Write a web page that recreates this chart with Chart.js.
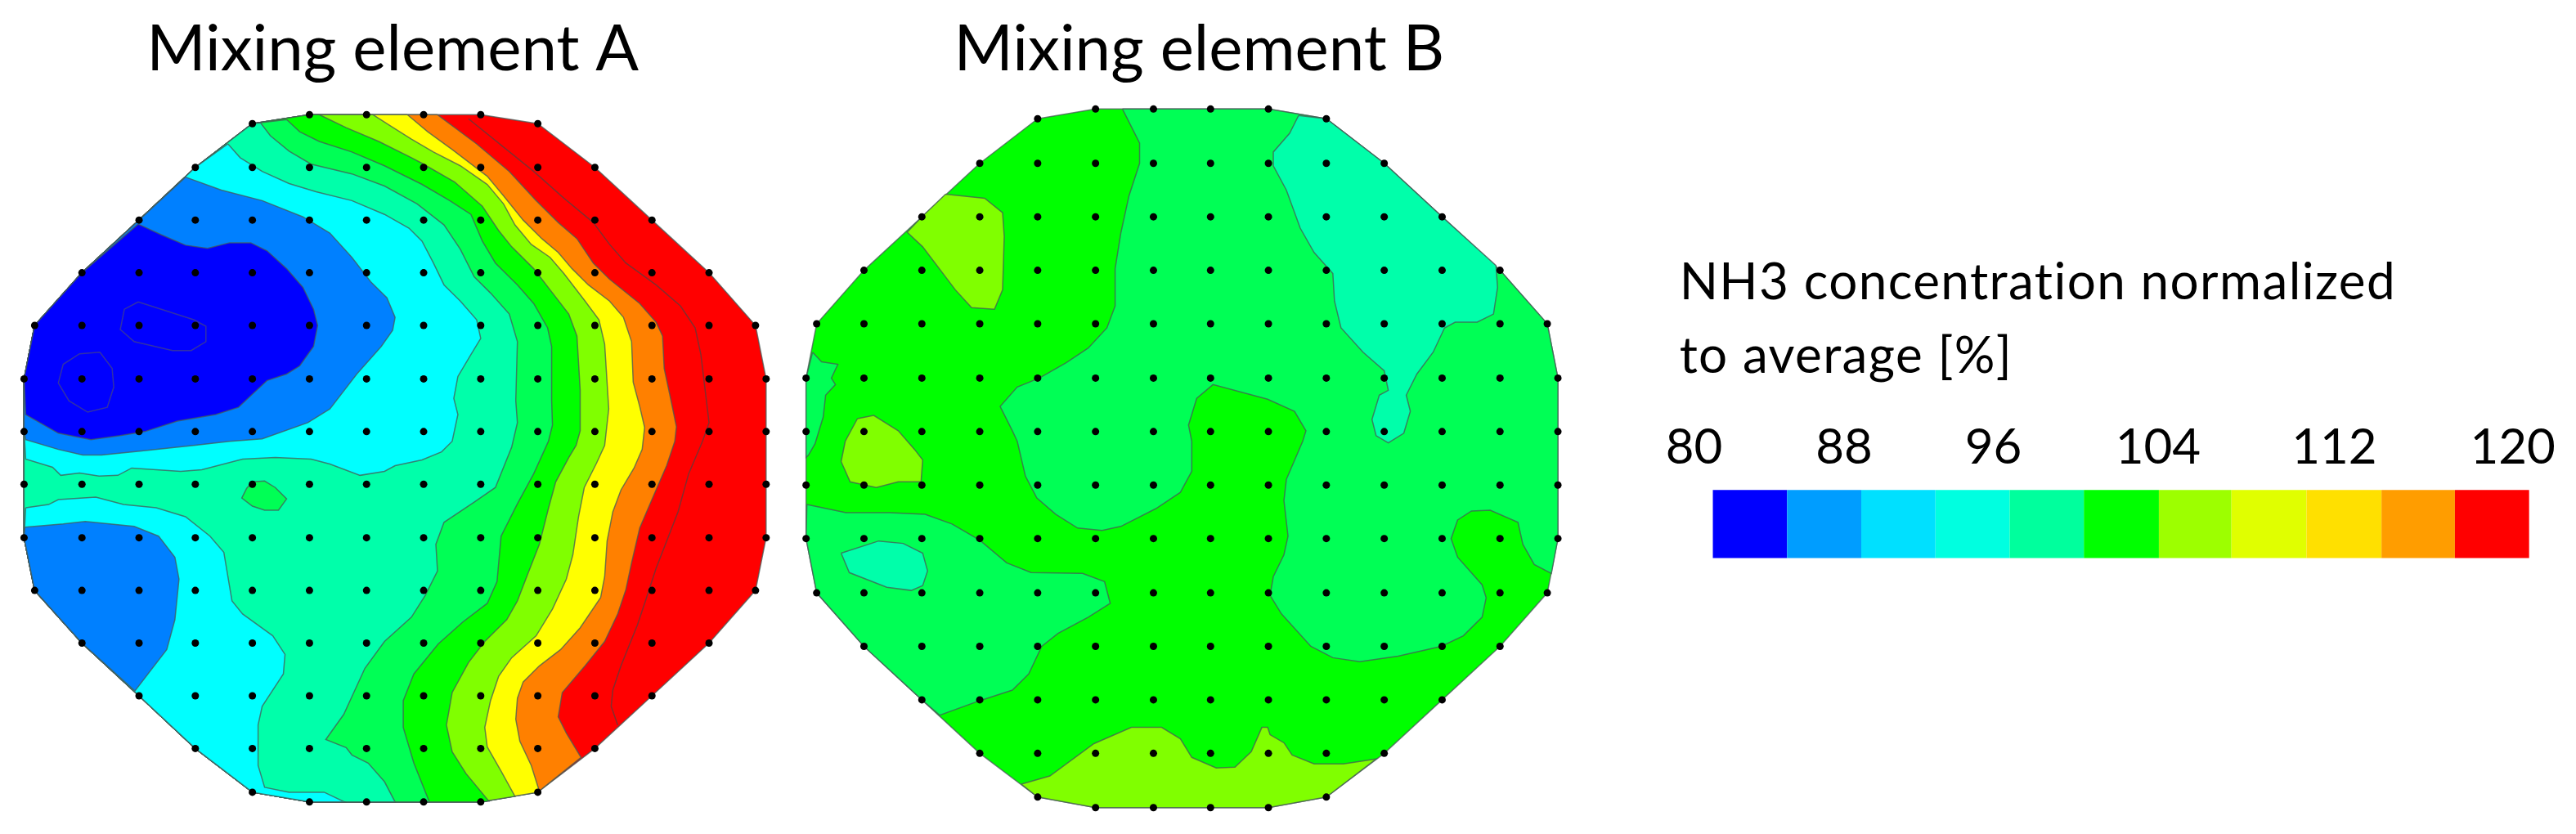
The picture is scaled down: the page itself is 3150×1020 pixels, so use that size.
<!DOCTYPE html>
<html>
<head>
<meta charset="utf-8">
<title>NH3 concentration</title>
<script src="https://cdn.jsdelivr.net/npm/chart.js@4"></script>
<style>
  html, body { margin: 0; padding: 0; background: #fff; }
  canvas { display: block; }
</style>
</head>
<body>
<canvas id="chart" width="3150" height="1020"></canvas>
<script>
// Titles and legend
const panelTitles = ["Mixing element A", "Mixing element B"];
const legendLines = ["NH3 concentration normalized", "to average [%]"];
const tickLabels = ["80", "88", "96", "104", "112", "120"];
const legendColors = ["#0000ff", "#009dff", "#00e0ff", "#00ffe0", "#00ff9d", "#00ff00",
    "#9dff00", "#e0ff00", "#ffe000", "#ff9d00", "#ff0000"];
const legendEdges = [2096, 2187, 2278, 2369, 2460, 2551, 2643, 2732, 2824, 2916, 3006, 3097];

// Contour colours, low to high
const blue = "#0000ff", azure = "#0080ff", cyan = "#00ffff", mint = "#00ffaa", spring = "#00ff55";
const green = "#00ff00", lime = "#80ff00", yellow = "#ffff00", orange = "#ff8000", red = "#ff0000";

// Measuring points: column and row positions
const colsA = [25, 96, 166, 235, 305, 375, 445, 515, 585, 655, 725, 795, 865, 935];
const rowsA = [137, 202, 267, 332, 397, 463, 528, 593, 659, 724, 789, 854, 919, 985];
const colsB = [984, 1055, 1126, 1197, 1268, 1339, 1410, 1480, 1551, 1622, 1693, 1764, 1835, 1906];
const rowsB = [130, 197, 263, 329, 395, 462, 528, 594, 660, 727, 793, 859, 925, 992];
// first and last column index of each row
const rowSpans = [[5, 8], [3, 10], [2, 11], [1, 12], [1, 12], [0, 13], [0, 13], [0, 13], [0, 13], [1, 12], [1, 12], [2, 11], [3, 10], [5, 8]];
const cornerPointsA = [[305, 148], [655, 148], [38, 397], [922, 397], [38, 724], [922, 724], [305, 973], [655, 973]];
const cornerPointsB = [[1268, 142], [1622, 142], [997, 395], [1893, 395], [997, 727], [1893, 727], [1268, 979], [1622, 979]];

// Outlines, clockwise from the upper left corner
const outlineA = [[305, 148], [375, 137], [445, 137], [515, 137], [585, 137], [655, 148], [725, 202], [795, 267], [865, 332],
    [922, 397], [935, 463], [935, 528], [935, 593], [935, 659], [922, 724], [865, 789], [795, 854], [725, 919], [655, 973],
    [585, 985], [515, 985], [445, 985], [375, 985], [305, 973], [235, 919], [166, 854], [96, 789], [38, 724], [25, 659],
    [25, 593], [25, 528], [25, 463], [38, 397], [96, 332], [166, 267], [235, 202]];
const outlineB = [[1268, 142], [1339, 130], [1551, 130], [1622, 142], [1693, 197], [1764, 263], [1835, 329], [1893, 395],
    [1906, 462], [1906, 660], [1893, 727], [1835, 793], [1764, 859], [1693, 925], [1622, 979], [1551, 992], [1339, 992],
    [1268, 979], [1197, 925], [1126, 859], [1055, 793], [997, 727], [984, 660], [984, 462], [997, 395], [1055, 329],
    [1126, 263], [1197, 197]];

// Element A contours
const orangeEdgeA = [[532, 137], [580, 173], [620, 207], [653, 243], [680, 270], [703, 290], [723, 320], [743, 340], [780, 370],
    [800, 393], [808, 410], [810, 450], [817, 483], [825, 522], [823, 540], [813, 570], [800, 600], [780, 647], [770, 690],
    [763, 723], [753, 753], [737, 787], [713, 817], [685, 850], [680, 880], [690, 900], [708, 930]];
const yellowEdgeA = [[495, 137], [520, 158], [550, 180], [593, 213], [613, 237], [637, 267], [660, 290], [680, 307], [697, 327],
    [717, 347], [743, 367], [760, 387], [770, 417], [772, 467], [780, 497], [786, 523], [783, 550], [773, 573], [757, 600],
    [747, 627], [740, 663], [737, 707], [732, 733], [707, 770], [683, 797], [657, 817], [637, 837], [630, 857], [628, 883],
    [633, 910], [647, 940], [657, 972]];
const limeEdgeA = [[453, 137], [473, 150], [500, 167], [527, 183], [560, 200], [593, 223], [613, 247], [627, 273], [647, 297],
    [670, 313], [687, 333], [713, 367], [730, 390], [737, 420], [742, 500], [737, 545], [727, 567], [712, 597], [705, 633],
    [698, 680], [690, 710], [673, 747], [653, 780], [623, 807], [607, 830], [597, 860], [590, 893], [593, 917], [610, 947],
    [627, 978]];
const greenEdgeA = [[387, 137], [420, 153], [460, 170], [500, 190], [513, 197], [553, 220], [587, 250], [607, 280], [623, 300],
    [650, 327], [670, 353], [693, 383], [703, 410], [707, 477], [707, 527], [702, 545], [693, 560], [677, 590], [668, 623],
    [657, 667], [643, 703], [630, 737], [617, 760], [590, 787], [570, 813], [550, 850], [543, 890], [550, 923], [567, 950],
    [595, 984]];
const springEdgeA = [[347, 143], [363, 158], [387, 170], [427, 183], [467, 200], [513, 223], [547, 243], [573, 260], [587, 293],
    [603, 320], [630, 347], [650, 370], [667, 400], [672, 423], [672, 490], [673, 520], [668, 540], [650, 580], [630, 617],
    [610, 657], [605, 713], [593, 740], [563, 763], [533, 790], [503, 827], [490, 860], [490, 893], [503, 937], [522, 985]];
const mintEdgeA = [[315, 147], [327, 163], [350, 182], [377, 198], [427, 210], [467, 225], [507, 247], [540, 273], [560, 303],
    [577, 337], [597, 357], [620, 383], [630, 417], [628, 490], [630, 517], [623, 547], [603, 597], [577, 615], [540, 640],
    [530, 667], [532, 700], [517, 730], [500, 757], [467, 787], [443, 820], [417, 877], [395, 908], [420, 918], [427, 927],
    [447, 937], [467, 960], [480, 985]];
const cyanTopEdgeA = [[275, 173], [290, 190], [317, 207], [350, 222], [383, 232], [427, 243], [467, 260], [497, 277], [513, 293],
    [527, 320], [540, 347], [560, 367], [580, 390], [585, 413], [573, 433], [557, 460], [552, 487], [557, 507], [550, 540],
    [537, 553], [513, 563], [480, 570], [467, 577], [437, 582], [400, 568], [377, 562], [333, 560], [293, 562], [243, 575],
    [217, 577], [157, 573], [140, 582], [117, 583], [93, 579], [70, 582], [60, 572], [27, 562]];
const cyanLowEdgeA = [[27, 622], [55, 618], [67, 612], [113, 609], [147, 618], [187, 622], [223, 633], [253, 657], [270, 677],
    [275, 707], [280, 737], [293, 753], [330, 780], [345, 803], [343, 827], [317, 867], [312, 890], [312, 940], [320, 967],
    [350, 973], [393, 973], [418, 985]];
const azureTopEdgeA = [[223, 214], [267, 230], [317, 243], [367, 263], [400, 283], [427, 313], [450, 343], [470, 363], [480, 387],
    [477, 403], [463, 423], [433, 457], [400, 500], [373, 517], [317, 537], [277, 540], [233, 545], [167, 552], [120, 557],
    [97, 557], [67, 550], [27, 538]];
const azureLowEdgeA = [[26, 646], [73, 642], [100, 639], [160, 645], [190, 657], [210, 683], [215, 710], [210, 760], [200, 797],
    [180, 823], [161, 848]];
const blueEdgeA = [[165, 272], [193, 285], [223, 298], [250, 302], [277, 295], [303, 295], [323, 305], [347, 327], [367, 350],
    [380, 377], [385, 397], [380, 423], [363, 447], [347, 457], [323, 465], [307, 480], [288, 498], [260, 507], [213, 515],
    [173, 528], [143, 533], [107, 538], [67, 530], [27, 507]];
const springBlobA = [[305, 590], [320, 589], [333, 597], [347, 611], [337, 625], [320, 625], [305, 620], [292, 610], [298, 598]];
const blueLoopA1 = [[165, 368], [187, 375], [233, 390], [248, 398], [248, 417], [230, 428], [207, 428], [160, 417], [143, 402], [148, 377]];
const blueLoopA2 = [[118, 430], [133, 450], [135, 473], [127, 498], [103, 504], [80, 490], [67, 468], [73, 445], [93, 432]];
const redLineA = [[570, 142], [613, 177], [650, 207], [687, 240], [723, 270], [743, 297], [763, 320], [800, 347], [830, 373],
    [848, 400], [855, 433], [863, 500], [865, 517], [857, 540], [840, 580], [827, 627], [800, 697], [787, 737], [777, 767],
    [757, 817], [747, 847], [745, 867], [753, 890]];

// Element B contours
const springEdgeB = [[1372, 130], [1393, 172], [1393, 197], [1380, 237], [1370, 283], [1363, 327], [1363, 373], [1353, 400],
    [1330, 425], [1303, 443], [1270, 462], [1243, 473], [1222, 497], [1237, 527], [1243, 540], [1253, 583], [1267, 610],
    [1290, 630], [1317, 647], [1347, 650], [1370, 645], [1413, 623], [1443, 603], [1457, 577], [1457, 540], [1453, 520],
    [1463, 487], [1483, 470], [1550, 488], [1583, 503], [1597, 527], [1593, 540], [1573, 587], [1570, 613], [1575, 657],
    [1570, 680], [1557, 707], [1553, 730], [1567, 753], [1603, 793], [1630, 807], [1663, 812], [1710, 805], [1763, 793],
    [1790, 780], [1813, 757], [1818, 733], [1813, 717], [1783, 683], [1775, 660], [1783, 637], [1800, 626], [1823, 625],
    [1857, 640], [1863, 667], [1877, 692], [1898, 703]];
const springSliverB = [[992, 430], [1003, 442], [1023, 445], [1015, 462], [1020, 470], [1008, 483], [1005, 510], [995, 543], [987, 557], [984, 560]];
const springLowEdgeB = [[985, 618], [1033, 628], [1087, 628], [1130, 630], [1163, 642], [1197, 662], [1230, 690], [1260, 702],
    [1323, 703], [1350, 713], [1357, 740], [1330, 757], [1293, 777], [1273, 793], [1257, 827], [1237, 847], [1197, 860], [1148, 878]];
const mintEdgeB = [[1588, 138], [1577, 160], [1557, 183], [1557, 200], [1573, 230], [1590, 277], [1607, 307], [1630, 333],
    [1632, 367], [1640, 400], [1667, 430], [1693, 453], [1698, 477], [1687, 483], [1678, 513], [1683, 533], [1698, 542],
    [1717, 530], [1725, 503], [1720, 483], [1733, 457], [1753, 430], [1767, 400], [1780, 393], [1807, 393], [1827, 383],
    [1832, 350], [1830, 323]];
const mintBlobB = [[1027, 678], [1073, 663], [1103, 666], [1127, 678], [1133, 700], [1127, 718], [1113, 724], [1083, 720], [1037, 702]];
const limeTopEdgeB = [[1155, 235], [1203, 240], [1225, 258], [1227, 287], [1225, 353], [1215, 377], [1187, 375], [1167, 353], [1127, 300], [1108, 282]];
const limeBlobB = [[1047, 512], [1067, 508], [1097, 527], [1117, 550], [1127, 563], [1125, 590], [1097, 590], [1070, 597], [1038, 590], [1027, 565], [1032, 540]];
const limeLowEdgeB = [[1248, 963], [1283, 953], [1337, 913], [1383, 893], [1420, 893], [1443, 907], [1457, 930], [1487, 943],
    [1510, 942], [1530, 923], [1543, 893], [1550, 893], [1553, 902], [1570, 912], [1580, 927], [1607, 938], [1643, 938], [1683, 932]];

// Walk along an outline between two corner indexes
function walk(outline, from, to, step = 1) {
    const n = outline.length;
    const pts = [outline[from]];
    for (let i = from; i !== to; i = (i + step + n) % n) pts.push(outline[(i + step + n) % n]);
    return pts;
}

function area(pts, color) {
    return {
        type: "scatter", showLine: true, data: pts.concat([pts[0]]), fill: "shape",
        backgroundColor: color, borderColor: "rgba(70,90,85,0.75)", borderWidth: 1.5,
        pointRadius: 0, tension: 0
    };
}

function contourLine(pts, closed, color) {
    return {
        type: "scatter", showLine: true, data: closed ? pts.concat([pts[0]]) : pts, fill: false,
        borderColor: color, borderWidth: 1.5, pointRadius: 0, tension: 0
    };
}

function gridPoints(cols, rows, corners) {
    const pts = corners.slice();
    rows.forEach((y, r) => {
        for (let c = rowSpans[r][0]; c <= rowSpans[r][1]; c++) pts.push([cols[c], y]);
    });
    return {
        type: "scatter", data: pts, showLine: false, pointRadius: 4.5,
        backgroundColor: "#000", borderColor: "#000", borderWidth: 0
    };
}

// Painted low layers last, so each one covers the one before
const layers = [
    area(outlineA, red),
    contourLine(redLineA, false, "rgba(90,60,60,0.75)"),
    area(orangeEdgeA.concat(walk(outlineA, 18, 3)), orange),
    area(yellowEdgeA.concat(walk(outlineA, 18, 2)), yellow),
    area(limeEdgeA.concat(walk(outlineA, 19, 2)), lime),
    area(greenEdgeA.concat(walk(outlineA, 19, 1)), green),
    area(springEdgeA.concat(walk(outlineA, 20, 0)), spring),
    area(mintEdgeA.concat(walk(outlineA, 21, 0)), mint),
    area(springBlobA, spring),
    area(cyanTopEdgeA.concat(walk(outlineA, 30, 35)), cyan),
    area(cyanLowEdgeA.concat(walk(outlineA, 22, 28)), cyan),
    area(azureTopEdgeA.concat(walk(outlineA, 30, 34)), azure),
    area(azureLowEdgeA.concat(walk(outlineA, 26, 28)), azure),
    area(blueEdgeA.concat(walk(outlineA, 31, 33)), blue),
    contourLine(blueLoopA1, true, "rgba(70,70,130,0.7)"),
    contourLine(blueLoopA2, true, "rgba(70,70,130,0.7)"),

    area(outlineB, green),
    area(springEdgeB.concat(walk(outlineB, 9, 2, -1)), spring),
    area(springSliverB.concat([outlineB[23]]), spring),
    area(springLowEdgeB.concat(walk(outlineB, 19, 22)), spring),
    area(mintEdgeB.concat(walk(outlineB, 5, 3, -1)), mint),
    area(mintBlobB, mint),
    area(limeTopEdgeB.concat([outlineB[26]]), lime),
    area(limeBlobB, lime),
    area(limeLowEdgeB.concat(walk(outlineB, 14, 17)), lime),

    gridPoints(colsA, rowsA, cornerPointsA),
    gridPoints(colsB, rowsB, cornerPointsB)
];

// Legend colour bar
legendColors.forEach((color, i) => {
    const x0 = legendEdges[i], x1 = legendEdges[i + 1];
    layers.push({
        type: "scatter", showLine: true, fill: "shape", backgroundColor: color, borderWidth: 0, pointRadius: 0,
        data: [[x0, 600], [x1, 600], [x1, 684], [x0, 684], [x0, 600]]
    });
});

// Text goes through the scales as well
const textLabels = {
    id: "textLabels",
    afterDatasetsDraw(chart) {
        const { ctx, scales } = chart;
        const put = (text, x, y, size, align, spacing = 0) => {
            ctx.font = size + "px Lato";
            ctx.letterSpacing = spacing + "px";
            ctx.textAlign = align;
            ctx.textBaseline = "alphabetic";
            ctx.fillStyle = "#000";
            ctx.fillText(text, scales.x.getPixelForValue(x), scales.y.getPixelForValue(y));
        };
        ctx.save();
        put(panelTitles[0], 477, 82, 78, "center");
        put(panelTitles[1], 1466, 82, 78, "center");
        put(legendLines[0], 2055, 365, 62, "left", 1.4);
        put(legendLines[1], 2055, 456, 62, "left", 1.4);
        const tickX = [2073, 2257, 2440, 2642, 2858, 3077];
        tickLabels.forEach((t, i) => put(t, tickX[i], 568, 60, "center"));
        ctx.restore();
    }
};

new Chart(document.getElementById("chart"), {
    type: "scatter",
    data: { datasets: layers.map((d, i) => ({ ...d, order: layers.length - i })) },
    plugins: [textLabels],
    options: {
        responsive: false,
        animation: false,
        layout: { padding: 0 },
        plugins: { legend: { display: false }, tooltip: { enabled: false }, title: { display: false } },
        scales: {
            x: { type: "linear", min: 0, max: 3150, display: false },
            y: { type: "linear", min: 0, max: 1020, reverse: true, display: false }
        }
    }
});
</script>
</body>
</html>
